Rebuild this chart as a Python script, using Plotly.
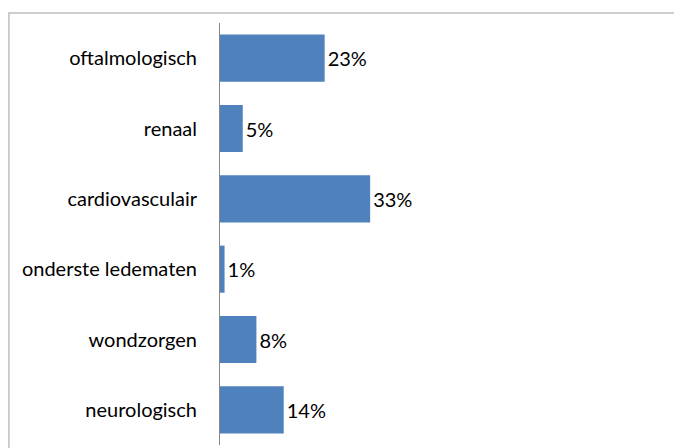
import plotly.graph_objects as go

# Données (de haut en bas dans le graphique)
categories = ["oftalmologisch", "renaal", "cardiovasculair",
              "onderste ledematen", "wondzorgen", "neurologisch"]
values = [0.23, 0.05, 0.33, 0.01, 0.08, 0.14]
labels = ["23%", "5%", "33%", "1%", "8%", "14%"]

BAR_COLOR = "#4F81BD"
FONT = "Lato, 'Open Sans', sans-serif"

fig = go.Figure(go.Bar(
    x=values,
    y=categories,
    orientation="h",
    marker=dict(color=BAR_COLOR, line=dict(width=0)),
    text=labels,
    textposition="outside",
    textfont=dict(family=FONT, size=20, color="#000000"),
    cliponaxis=False,
))

# la page a une marge de 8px autour du graphique -> taille réduite
fig.update_layout(
    width=674, height=440,
    margin=dict(l=212, r=7, t=15, b=3),
    paper_bgcolor="white",
    plot_bgcolor="white",
    bargap=0.33,
    showlegend=False,
    font=dict(family=FONT, size=20, color="#000000"),
)

fig.update_xaxes(range=[0, 1], visible=False, showgrid=False, zeroline=False)
fig.update_yaxes(
    autorange="reversed",
    showline=True, linecolor="#868686", linewidth=1,
    showgrid=False, ticks="", ticklabelstandoff=18,
    tickfont=dict(family=FONT, size=20, color="#000000"),
)

# Cadre du graphique (bord gris, coupé à droite et en bas)
fig.add_shape(type="rect", xref="paper", yref="paper",
              x0=-0.464, x1=1.2, y0=-0.2, y1=1.0237,
              line=dict(color="#BFBFBF", width=1.5), layer="below")

fig.write_html("out.html")
